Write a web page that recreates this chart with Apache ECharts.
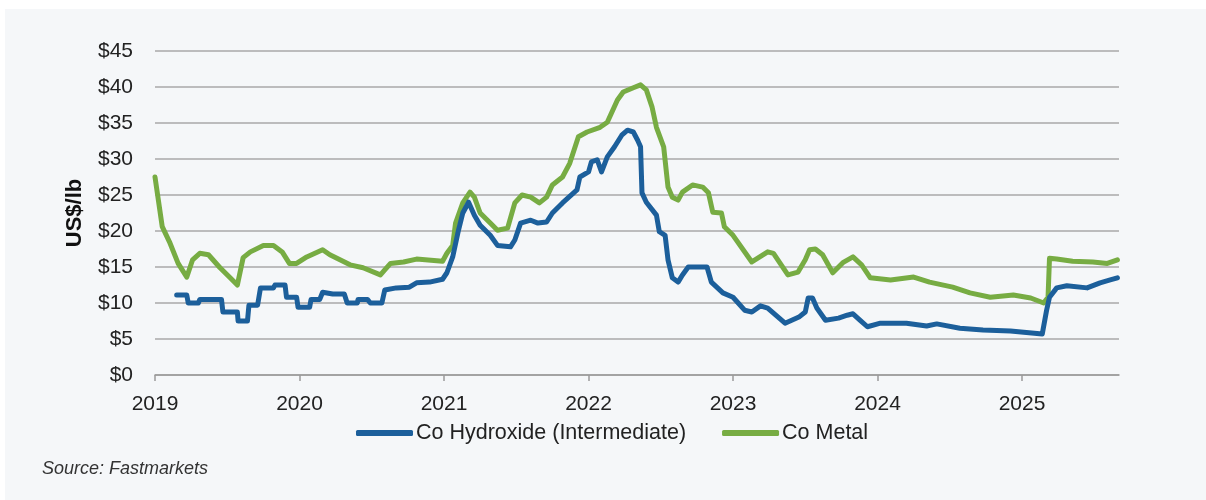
<!DOCTYPE html>
<html>
<head>
<meta charset="utf-8">
<script src="https://cdn.jsdelivr.net/npm/echarts@6/dist/echarts.min.js"></script>
<style>
  html, body { margin: 0; padding: 0; background: #ffffff; }
  #wrap { position: relative; width: 1206px; height: 500px; background: #ffffff; }
  #chart { position: absolute; left: 5px; top: 9px; width: 1201px; height: 491px; }
</style>
</head>
<body>
<div id="wrap"><div id="chart"></div></div>
<script>
// decimal year, US$/lb
const coHydroxide = [
  [2019.15, 11.1], [2019.22, 11.1], [2019.23, 10.0], [2019.30, 10.0], [2019.31, 10.5],
  [2019.46, 10.5], [2019.47, 8.75], [2019.57, 8.75], [2019.575, 7.5], [2019.64, 7.5],
  [2019.65, 9.7], [2019.71, 9.7], [2019.73, 12.1], [2019.82, 12.1], [2019.83, 12.5],
  [2019.90, 12.5], [2019.91, 10.8], [2019.98, 10.8], [2019.99, 9.4], [2020.07, 9.4],
  [2020.08, 10.5], [2020.14, 10.5], [2020.16, 11.5], [2020.23, 11.25], [2020.31, 11.25],
  [2020.33, 10.0], [2020.40, 10.0], [2020.405, 10.5], [2020.47, 10.5], [2020.49, 10.0],
  [2020.57, 10.0], [2020.59, 11.8], [2020.67, 12.1], [2020.76, 12.2], [2020.81, 12.8],
  [2020.90, 12.9], [2020.99, 13.3], [2021.02, 14.2], [2021.06, 16.4], [2021.10, 20.1],
  [2021.13, 22.5], [2021.17, 24.0], [2021.21, 22.2], [2021.25, 20.8], [2021.32, 19.4],
  [2021.37, 18.0], [2021.46, 17.8], [2021.49, 18.75], [2021.53, 21.1], [2021.60, 21.5],
  [2021.65, 21.1], [2021.71, 21.25], [2021.75, 22.5], [2021.82, 23.9], [2021.92, 25.7],
  [2021.94, 27.5], [2022.00, 28.2], [2022.02, 29.6], [2022.06, 29.9], [2022.09, 28.2],
  [2022.13, 30.3], [2022.18, 31.7], [2022.23, 33.3], [2022.27, 34.0], [2022.31, 33.75],
  [2022.34, 32.6], [2022.36, 31.7], [2022.37, 25.3], [2022.40, 24.0], [2022.47, 22.2],
  [2022.49, 19.9], [2022.53, 19.4], [2022.55, 16.0], [2022.58, 13.5], [2022.62, 12.9],
  [2022.65, 13.9], [2022.69, 15.0], [2022.82, 15.0], [2022.85, 12.9], [2022.93, 11.4],
  [2023.00, 10.8], [2023.08, 9.0], [2023.13, 8.75], [2023.19, 9.6], [2023.24, 9.3],
  [2023.36, 7.2], [2023.46, 8.1], [2023.50, 8.75], [2023.52, 10.7], [2023.55, 10.7],
  [2023.58, 9.3], [2023.64, 7.6], [2023.73, 7.9], [2023.79, 8.3], [2023.83, 8.5],
  [2023.88, 7.6], [2023.93, 6.7], [2024.02, 7.2], [2024.20, 7.2], [2024.34, 6.8],
  [2024.41, 7.1], [2024.57, 6.5], [2024.73, 6.25], [2024.92, 6.1], [2025.14, 5.7],
  [2025.17, 9.0], [2025.19, 10.8], [2025.24, 12.1], [2025.31, 12.4], [2025.45, 12.1],
  [2025.54, 12.8], [2025.61, 13.2], [2025.66, 13.5]
];

const coMetal = [
  [2019.00, 27.5], [2019.05, 20.6], [2019.10, 18.5], [2019.16, 15.5], [2019.22, 13.6],
  [2019.26, 16.0], [2019.31, 16.9], [2019.37, 16.7], [2019.45, 14.9], [2019.52, 13.5],
  [2019.57, 12.5], [2019.61, 16.3], [2019.66, 17.1], [2019.75, 18.0], [2019.82, 18.0],
  [2019.88, 17.1], [2019.93, 15.5], [2019.98, 15.5], [2020.05, 16.4], [2020.16, 17.4],
  [2020.21, 16.7], [2020.28, 16.0], [2020.35, 15.3], [2020.44, 14.9], [2020.56, 13.9],
  [2020.59, 14.6], [2020.63, 15.5], [2020.72, 15.7], [2020.81, 16.1], [2020.99, 15.8],
  [2021.02, 16.9], [2021.06, 18.0], [2021.08, 21.1], [2021.13, 23.9], [2021.18, 25.4],
  [2021.21, 24.7], [2021.25, 22.5], [2021.32, 21.1], [2021.37, 20.1], [2021.44, 20.4],
  [2021.49, 23.9], [2021.54, 25.0], [2021.60, 24.7], [2021.66, 23.9], [2021.71, 24.7],
  [2021.75, 26.4], [2021.82, 27.5], [2021.87, 29.4], [2021.93, 33.1], [2021.99, 33.75],
  [2022.08, 34.4], [2022.13, 35.1], [2022.20, 38.2], [2022.24, 39.3], [2022.31, 39.9],
  [2022.36, 40.3], [2022.40, 39.6], [2022.44, 37.2], [2022.47, 34.4], [2022.52, 31.7],
  [2022.55, 26.1], [2022.58, 24.7], [2022.62, 24.3], [2022.65, 25.4], [2022.72, 26.4],
  [2022.79, 26.1], [2022.83, 25.3], [2022.86, 22.6], [2022.92, 22.5], [2022.94, 20.6],
  [2023.00, 19.4], [2023.13, 15.7], [2023.24, 17.1], [2023.28, 16.9], [2023.38, 13.9],
  [2023.45, 14.3], [2023.50, 16.0], [2023.53, 17.4], [2023.57, 17.5], [2023.62, 16.7],
  [2023.69, 14.2], [2023.76, 15.6], [2023.83, 16.4], [2023.89, 15.3], [2023.95, 13.5],
  [2024.09, 13.2], [2024.25, 13.6], [2024.36, 12.9], [2024.52, 12.2], [2024.64, 11.4],
  [2024.78, 10.8], [2024.94, 11.1], [2025.06, 10.7], [2025.15, 10.0], [2025.18, 10.8],
  [2025.19, 16.2], [2025.24, 16.1], [2025.35, 15.8], [2025.49, 15.7], [2025.59, 15.5],
  [2025.66, 16.0]
];

const seriesNames = ['Co Hydroxide (Intermediate)', 'Co Metal'];
const seriesColors = ['#1c5f9b', '#77ac43'];
const xStart = 2019;
const xEnd = 2025.671;

const font = '"Liberation Sans", Arial, Helvetica, sans-serif';
const chart = echarts.init(document.getElementById('chart'), null, { renderer: 'canvas' });

const option = {
  backgroundColor: '#f5f7f9',
  animation: false,
  textStyle: { fontFamily: font },
  grid: { left: 150, right: 87, top: 42, bottom: 125, containLabel: false },
  legend: {
    left: 351,
    top: 413,
    padding: 0,
    icon: 'roundRect',
    itemWidth: 57,
    itemHeight: 6,
    itemGap: 36,
    textStyle: { fontSize: 21.5, color: '#222', fontFamily: font, padding: [0, 0, 0, -2] },
    data: seriesNames
  },
  xAxis: {
    type: 'value',
    min: xStart,
    max: xEnd,
    interval: 1,
    axisLine: { show: true, lineStyle: { color: '#9a9a9a', width: 1.5 } },
    axisTick: { show: true, length: 6, lineStyle: { color: '#9a9a9a', width: 1.5 } },
    splitLine: { show: false },
    axisLabel: {
      fontSize: 21, color: '#222', margin: 19, fontFamily: font,
      showMaxLabel: false,
      formatter: v => String(Math.round(v))
    }
  },
  yAxis: {
    type: 'value',
    min: 0,
    max: 45,
    interval: 5,
    name: 'US$/lb',
    nameLocation: 'middle',
    nameGap: 69,
    nameRotate: 90,
    nameTextStyle: { fontSize: 22, fontWeight: 'bold', color: '#111', fontFamily: font },
    axisLine: { show: false },
    axisTick: { show: false },
    splitLine: { show: true, lineStyle: { color: '#a8a8a8', width: 1.5 } },
    axisLabel: {
      fontSize: 21, color: '#222', margin: 22, fontFamily: font,
      formatter: v => '$' + v
    }
  },
  graphic: [
    {
      type: 'text',
      left: 37,
      top: 451,
      style: {
        text: 'Source: Fastmarkets',
        font: 'italic 18px ' + font,
        fill: '#333'
      }
    }
  ],
  series: [
    {
      name: seriesNames[0],
      type: 'line',
      data: coHydroxide,
      symbol: 'none',
      color: seriesColors[0],
      lineStyle: { width: 5, color: seriesColors[0], cap: 'round', join: 'round' },
      z: 3
    },
    {
      name: seriesNames[1],
      type: 'line',
      data: coMetal,
      symbol: 'none',
      color: seriesColors[1],
      lineStyle: { width: 5, color: seriesColors[1], cap: 'round', join: 'round' },
      z: 2
    }
  ]
};

chart.setOption(option);
</script>
</body>
</html>
